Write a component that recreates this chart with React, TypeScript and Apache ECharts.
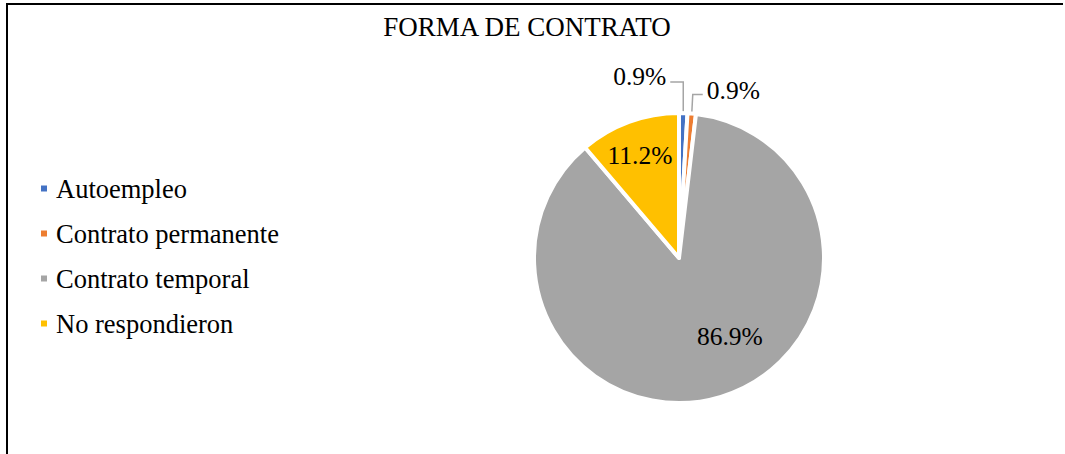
import React, { useEffect, useRef } from "react";
import * as echarts from "echarts";

const TITLE = "FORMA DE CONTRATO";
const categories = ["Autoempleo", "Contrato permanente", "Contrato temporal", "No respondieron"];
const counts = [1, 1, 93, 12];
const colors = ["#4472C4", "#ED7D31", "#A5A5A5", "#FFC000"];

const FONT = "'Liberation Serif', 'Times New Roman', serif";

export default function App() {
  const ref = useRef<HTMLDivElement>(null);

  useEffect(() => {
    const chart = echarts.init(ref.current!, null, { renderer: "svg" });
    const total = counts.reduce((a, b) => a + b, 0);
    const positions = ["outside", "outside", "inside", "inside"];

    const data = categories.map((name, i) => ({
      name,
      value: counts[i],
      itemStyle: { color: colors[i] },
      label: { position: positions[i] },
    }));

    chart.setOption({
      animation: false,
      backgroundColor: "#ffffff",
      title: {
        text: TITLE,
        left: 522,
        top: 8,
        textAlign: "center",
        textStyle: { fontFamily: FONT, fontSize: 27, fontWeight: "normal", color: "#000" },
      },
      legend: {
        orient: "vertical",
        left: 34,
        top: 170,
        icon: "rect",
        itemWidth: 8,
        itemHeight: 8,
        itemGap: 18,
        data: categories,
        textStyle: { fontFamily: FONT, fontSize: 26.5, color: "#000", padding: [0, 0, 0, 3] },
      },
      graphic: [
        { type: "line", shape: { x1: 7, y1: 4, x2: 1063, y2: 4 }, style: { stroke: "#000", lineWidth: 2 } },
        { type: "line", shape: { x1: 7, y1: 3, x2: 7, y2: 454 }, style: { stroke: "#000", lineWidth: 2 } },
      ],
      series: [
        {
          type: "pie",
          center: [679, 258],
          radius: 145,
          startAngle: 90,
          clockwise: true,
          avoidLabelOverlap: false,
          itemStyle: { borderColor: "#ffffff", borderWidth: 4 },
          label: {
            show: true,
            fontFamily: FONT,
            fontSize: 25.5,
            color: "#000",
            formatter: (p: any) => ((p.value / total) * 100).toFixed(1) + "%",
          },
          labelLine: {
            show: true,
            length: 20,
            length2: 10,
            lineStyle: { color: "#A5A5A5", width: 1.5 },
          },
          labelLayout: (params: any) => {
            const i = params.dataIndex;
            if (i === 2) return { dx: 29, dy: 6 };
            if (i === 3) return { dx: -13, dy: -32 };
            const pts = params.labelLinePoints;
            if (!pts || !pts.length) return {};
            const p0 = pts[0];
            if (i === 0) {
              const p1 = [p0[0], p0[1] - 31];
              const p2 = [p1[0] - 13, p1[1]];
              return {
                x: p2[0] - 4,
                y: p2[1] - 6,
                align: "right",
                verticalAlign: "middle",
                labelLinePoints: [p0, p1, p2],
              };
            }
            const p1 = [p0[0] + 1, p0[1] - 19];
            const p2 = [p1[0] + 10, p1[1]];
            return {
              x: p2[0] + 4,
              y: p2[1] - 4,
              align: "left",
              verticalAlign: "middle",
              labelLinePoints: [p0, p1, p2],
            };
          },
          emphasis: { disabled: true },
          data,
        },
      ],
    });

    return () => chart.dispose();
  }, []);

  return (
    <div
      ref={ref}
      style={{ position: "absolute", left: 0, top: 0, width: 1065, height: 454 }}
    />
  );
}
